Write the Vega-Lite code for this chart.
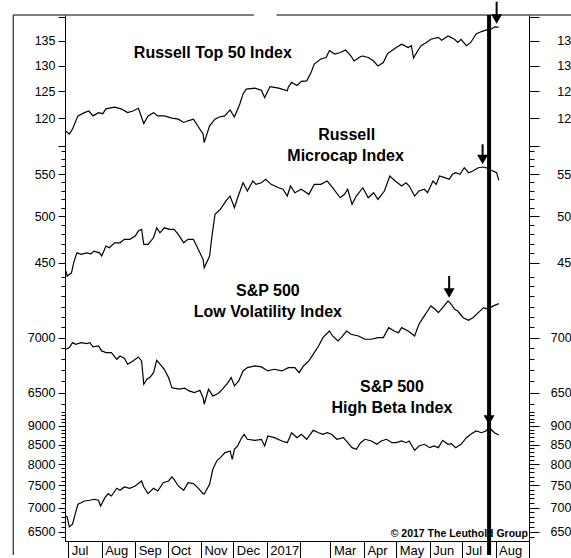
{
  "$schema": "https://vega.github.io/schema/vega-lite/v6.json",
  "padding": {"left": 12, "top": 0, "right": 0, "bottom": 0},
  "background": "white",
  "spacing": 0,
  "bounds": "flush",
  "resolve": {"scale": {"x": "independent", "y": "independent"}},
  "config": {
    "view": {"stroke": null},
    "font": "Liberation Sans",
    "axis": {"domainColor": "black", "tickColor": "black", "labelColor": "black", "labelFont": "Liberation Sans", "labelFontSize": 12.5, "grid": false, "labelOverlap": false, "labelFlush": false, "domainWidth": 1, "tickWidth": 1}
  },
  "datasets": {
    "top50": [
      {"d":"2016-06-29","v":117.6},{"d":"2016-07-02","v":117.1},{"d":"2016-07-05","v":118.0},{"d":"2016-07-10","v":120.4},{"d":"2016-07-16","v":121.0},{"d":"2016-07-20","v":121.3},{"d":"2016-07-24","v":120.4},{"d":"2016-07-29","v":121.0},{"d":"2016-08-02","v":120.8},{"d":"2016-08-05","v":121.7},{"d":"2016-08-13","v":122.0},{"d":"2016-08-19","v":121.7},{"d":"2016-08-25","v":121.0},{"d":"2016-08-30","v":121.3},{"d":"2016-09-04","v":121.8},{"d":"2016-09-09","v":119.0},{"d":"2016-09-13","v":120.4},{"d":"2016-09-18","v":121.0},{"d":"2016-09-22","v":120.4},{"d":"2016-09-28","v":120.4},{"d":"2016-10-05","v":120.0},{"d":"2016-10-11","v":119.8},{"d":"2016-10-16","v":119.2},{"d":"2016-10-20","v":119.5},{"d":"2016-10-25","v":119.8},{"d":"2016-10-29","v":118.6},{"d":"2016-11-03","v":117.1},{"d":"2016-11-04","v":115.6},{"d":"2016-11-09","v":118.6},{"d":"2016-11-14","v":119.8},{"d":"2016-11-18","v":120.2},{"d":"2016-11-23","v":120.4},{"d":"2016-11-28","v":121.5},{"d":"2016-12-02","v":120.2},{"d":"2016-12-07","v":122.6},{"d":"2016-12-10","v":124.5},{"d":"2016-12-13","v":125.4},{"d":"2016-12-21","v":125.6},{"d":"2016-12-27","v":125.2},{"d":"2016-12-30","v":123.8},{"d":"2017-01-04","v":125.9},{"d":"2017-01-12","v":125.6},{"d":"2017-01-15","v":125.4},{"d":"2017-01-20","v":125.1},{"d":"2017-01-21","v":125.8},{"d":"2017-01-24","v":126.7},{"d":"2017-01-29","v":126.1},{"d":"2017-02-02","v":126.9},{"d":"2017-02-07","v":127.0},{"d":"2017-02-11","v":128.6},{"d":"2017-02-14","v":130.3},{"d":"2017-02-20","v":131.3},{"d":"2017-02-25","v":131.6},{"d":"2017-02-28","v":133.0},{"d":"2017-03-05","v":132.3},{"d":"2017-03-10","v":132.6},{"d":"2017-03-15","v":133.1},{"d":"2017-03-20","v":131.9},{"d":"2017-03-23","v":130.9},{"d":"2017-03-29","v":131.8},{"d":"2017-03-31","v":131.9},{"d":"2017-04-05","v":131.6},{"d":"2017-04-10","v":130.9},{"d":"2017-04-14","v":129.9},{"d":"2017-04-19","v":130.6},{"d":"2017-04-23","v":132.4},{"d":"2017-04-27","v":133.0},{"d":"2017-05-01","v":133.6},{"d":"2017-05-06","v":134.3},{"d":"2017-05-12","v":133.6},{"d":"2017-05-15","v":134.0},{"d":"2017-05-17","v":131.5},{"d":"2017-05-21","v":133.0},{"d":"2017-05-24","v":134.0},{"d":"2017-05-29","v":134.65},{"d":"2017-06-02","v":135.3},{"d":"2017-06-09","v":135.7},{"d":"2017-06-12","v":135.1},{"d":"2017-06-18","v":136.0},{"d":"2017-06-24","v":135.3},{"d":"2017-06-27","v":134.65},{"d":"2017-06-30","v":135.3},{"d":"2017-07-05","v":134.0},{"d":"2017-07-09","v":134.65},{"d":"2017-07-14","v":136.4},{"d":"2017-07-19","v":136.9},{"d":"2017-07-23","v":137.2},{"d":"2017-07-28","v":137.4},{"d":"2017-07-31","v":137.9},{"d":"2017-08-04","v":137.8}
    ],
    "micro": [
      {"d":"2016-06-29","v":441.5},{"d":"2016-06-30","v":436.5},{"d":"2016-07-04","v":439.8},{"d":"2016-07-06","v":449.9},{"d":"2016-07-09","v":460.2},{"d":"2016-07-13","v":458.6},{"d":"2016-07-18","v":460.2},{"d":"2016-07-22","v":459.2},{"d":"2016-07-25","v":462.0},{"d":"2016-07-30","v":460.2},{"d":"2016-08-01","v":456.8},{"d":"2016-08-05","v":467.3},{"d":"2016-08-08","v":465.5},{"d":"2016-08-13","v":470.8},{"d":"2016-08-18","v":470.8},{"d":"2016-08-22","v":474.5},{"d":"2016-08-27","v":474.5},{"d":"2016-09-01","v":478.0},{"d":"2016-09-04","v":483.5},{"d":"2016-09-07","v":485.4},{"d":"2016-09-09","v":469.1},{"d":"2016-09-13","v":469.1},{"d":"2016-09-18","v":476.2},{"d":"2016-09-21","v":487.1},{"d":"2016-09-24","v":481.6},{"d":"2016-09-28","v":487.1},{"d":"2016-10-03","v":485.4},{"d":"2016-10-07","v":485.4},{"d":"2016-10-11","v":479.9},{"d":"2016-10-16","v":470.8},{"d":"2016-10-20","v":474.5},{"d":"2016-10-25","v":474.5},{"d":"2016-10-28","v":467.3},{"d":"2016-10-31","v":460.2},{"d":"2016-11-03","v":453.4},{"d":"2016-11-04","v":444.8},{"d":"2016-11-09","v":456.8},{"d":"2016-11-11","v":476.2},{"d":"2016-11-14","v":502.2},{"d":"2016-11-19","v":507.9},{"d":"2016-11-24","v":517.6},{"d":"2016-11-28","v":523.5},{"d":"2016-12-02","v":509.8},{"d":"2016-12-05","v":521.5},{"d":"2016-12-10","v":539.6},{"d":"2016-12-14","v":529.5},{"d":"2016-12-19","v":541.7},{"d":"2016-12-22","v":537.6},{"d":"2016-12-27","v":539.6},{"d":"2016-12-31","v":543.8},{"d":"2017-01-05","v":537.6},{"d":"2017-01-12","v":533.5},{"d":"2017-01-16","v":531.6},{"d":"2017-01-20","v":523.5},{"d":"2017-01-23","v":535.6},{"d":"2017-01-27","v":527.5},{"d":"2017-02-02","v":531.6},{"d":"2017-02-09","v":525.6},{"d":"2017-02-14","v":537.6},{"d":"2017-02-20","v":537.6},{"d":"2017-02-26","v":541.7},{"d":"2017-03-03","v":533.5},{"d":"2017-03-10","v":521.5},{"d":"2017-03-14","v":525.6},{"d":"2017-03-17","v":531.6},{"d":"2017-03-21","v":513.7},{"d":"2017-03-25","v":523.5},{"d":"2017-03-31","v":533.5},{"d":"2017-04-05","v":521.5},{"d":"2017-04-10","v":527.5},{"d":"2017-04-14","v":519.6},{"d":"2017-04-20","v":529.5},{"d":"2017-04-25","v":547.9},{"d":"2017-04-30","v":541.7},{"d":"2017-05-06","v":535.6},{"d":"2017-05-10","v":539.6},{"d":"2017-05-13","v":535.6},{"d":"2017-05-18","v":523.5},{"d":"2017-05-22","v":529.5},{"d":"2017-05-27","v":531.6},{"d":"2017-05-30","v":527.5},{"d":"2017-06-04","v":541.7},{"d":"2017-06-07","v":537.6},{"d":"2017-06-10","v":547.9},{"d":"2017-06-15","v":545.8},{"d":"2017-06-19","v":543.8},{"d":"2017-06-22","v":550.0},{"d":"2017-06-25","v":552.0},{"d":"2017-06-29","v":550.0},{"d":"2017-07-03","v":558.3},{"d":"2017-07-07","v":552.0},{"d":"2017-07-11","v":554.1},{"d":"2017-07-16","v":558.3},{"d":"2017-07-21","v":559.2},{"d":"2017-07-25","v":557.5},{"d":"2017-07-28","v":555.0},{"d":"2017-08-02","v":552.0},{"d":"2017-08-04","v":542.5}
    ],
    "lowvol": [
      {"d":"2016-06-29","v":6891},{"d":"2016-07-02","v":6907},{"d":"2016-07-05","v":6953},{"d":"2016-07-08","v":6938},{"d":"2016-07-13","v":6953},{"d":"2016-07-18","v":6944},{"d":"2016-07-21","v":6953},{"d":"2016-07-24","v":6913},{"d":"2016-07-29","v":6922},{"d":"2016-08-01","v":6876},{"d":"2016-08-05","v":6860},{"d":"2016-08-10","v":6860},{"d":"2016-08-15","v":6799},{"d":"2016-08-18","v":6829},{"d":"2016-08-22","v":6808},{"d":"2016-08-25","v":6754},{"d":"2016-08-30","v":6784},{"d":"2016-09-04","v":6820},{"d":"2016-09-07","v":6784},{"d":"2016-09-09","v":6574},{"d":"2016-09-12","v":6618},{"d":"2016-09-15","v":6638},{"d":"2016-09-18","v":6677},{"d":"2016-09-21","v":6790},{"d":"2016-09-24","v":6754},{"d":"2016-09-28","v":6708},{"d":"2016-10-02","v":6633},{"d":"2016-10-05","v":6544},{"d":"2016-10-07","v":6539},{"d":"2016-10-12","v":6530},{"d":"2016-10-17","v":6539},{"d":"2016-10-21","v":6515},{"d":"2016-10-26","v":6500},{"d":"2016-10-31","v":6521},{"d":"2016-11-03","v":6456},{"d":"2016-11-04","v":6399},{"d":"2016-11-08","v":6530},{"d":"2016-11-12","v":6471},{"d":"2016-11-17","v":6492},{"d":"2016-11-21","v":6530},{"d":"2016-11-26","v":6588},{"d":"2016-11-29","v":6633},{"d":"2016-12-02","v":6559},{"d":"2016-12-06","v":6603},{"d":"2016-12-10","v":6693},{"d":"2016-12-14","v":6723},{"d":"2016-12-21","v":6738},{"d":"2016-12-27","v":6729},{"d":"2017-01-02","v":6693},{"d":"2017-01-08","v":6708},{"d":"2017-01-15","v":6693},{"d":"2017-01-21","v":6723},{"d":"2017-01-27","v":6723},{"d":"2017-01-31","v":6677},{"d":"2017-02-04","v":6738},{"d":"2017-02-09","v":6784},{"d":"2017-02-13","v":6844},{"d":"2017-02-18","v":6922},{"d":"2017-02-22","v":7000},{"d":"2017-02-28","v":7063},{"d":"2017-03-03","v":7016},{"d":"2017-03-08","v":6969},{"d":"2017-03-11","v":7000},{"d":"2017-03-16","v":7063},{"d":"2017-03-20","v":7032},{"d":"2017-03-27","v":7016},{"d":"2017-04-02","v":6985},{"d":"2017-04-08","v":6985},{"d":"2017-04-14","v":7000},{"d":"2017-04-19","v":7000},{"d":"2017-04-24","v":7095},{"d":"2017-04-29","v":7063},{"d":"2017-05-03","v":7047},{"d":"2017-05-06","v":7095},{"d":"2017-05-12","v":7063},{"d":"2017-05-18","v":7016},{"d":"2017-05-22","v":7128},{"d":"2017-05-27","v":7208},{"d":"2017-05-30","v":7256},{"d":"2017-06-02","v":7306},{"d":"2017-06-06","v":7273},{"d":"2017-06-09","v":7240},{"d":"2017-06-13","v":7289},{"d":"2017-06-18","v":7355},{"d":"2017-06-21","v":7322},{"d":"2017-06-24","v":7273},{"d":"2017-06-27","v":7256},{"d":"2017-07-02","v":7191},{"d":"2017-07-07","v":7166},{"d":"2017-07-11","v":7191},{"d":"2017-07-16","v":7240},{"d":"2017-07-21","v":7289},{"d":"2017-07-25","v":7273},{"d":"2017-07-30","v":7306},{"d":"2017-08-04","v":7328}
    ],
    "hibeta": [
      {"d":"2016-06-29","v":6823},{"d":"2016-06-30","v":6802},{"d":"2016-07-02","v":6596},{"d":"2016-07-05","v":6651},{"d":"2016-07-07","v":6823},{"d":"2016-07-10","v":7074},{"d":"2016-07-13","v":7108},{"d":"2016-07-16","v":7145},{"d":"2016-07-21","v":7161},{"d":"2016-07-25","v":7183},{"d":"2016-07-29","v":7161},{"d":"2016-07-31","v":7036},{"d":"2016-08-04","v":7218},{"d":"2016-08-07","v":7308},{"d":"2016-08-10","v":7256},{"d":"2016-08-15","v":7430},{"d":"2016-08-18","v":7385},{"d":"2016-08-22","v":7460},{"d":"2016-08-27","v":7430},{"d":"2016-09-01","v":7483},{"d":"2016-09-07","v":7599},{"d":"2016-09-09","v":7460},{"d":"2016-09-13","v":7308},{"d":"2016-09-18","v":7430},{"d":"2016-09-22","v":7369},{"d":"2016-09-27","v":7559},{"d":"2016-10-02","v":7599},{"d":"2016-10-05","v":7693},{"d":"2016-10-07","v":7638},{"d":"2016-10-11","v":7483},{"d":"2016-10-16","v":7385},{"d":"2016-10-20","v":7559},{"d":"2016-10-25","v":7536},{"d":"2016-10-29","v":7444},{"d":"2016-11-03","v":7308},{"d":"2016-11-04","v":7300},{"d":"2016-11-09","v":7522},{"d":"2016-11-12","v":7877},{"d":"2016-11-16","v":8098},{"d":"2016-11-19","v":8164},{"d":"2016-11-23","v":8287},{"d":"2016-11-28","v":8334},{"d":"2016-11-30","v":8123},{"d":"2016-12-02","v":8377},{"d":"2016-12-05","v":8463},{"d":"2016-12-08","v":8639},{"d":"2016-12-11","v":8773},{"d":"2016-12-14","v":8639},{"d":"2016-12-21","v":8612},{"d":"2016-12-27","v":8639},{"d":"2016-12-30","v":8463},{"d":"2017-01-02","v":8727},{"d":"2017-01-08","v":8682},{"d":"2017-01-15","v":8594},{"d":"2017-01-20","v":8549},{"d":"2017-01-24","v":8816},{"d":"2017-01-29","v":8682},{"d":"2017-02-02","v":8773},{"d":"2017-02-07","v":8639},{"d":"2017-02-13","v":8882},{"d":"2017-02-18","v":8816},{"d":"2017-02-22","v":8773},{"d":"2017-02-26","v":8816},{"d":"2017-03-02","v":8773},{"d":"2017-03-07","v":8639},{"d":"2017-03-13","v":8682},{"d":"2017-03-17","v":8549},{"d":"2017-03-21","v":8419},{"d":"2017-03-25","v":8377},{"d":"2017-03-29","v":8549},{"d":"2017-04-02","v":8639},{"d":"2017-04-08","v":8594},{"d":"2017-04-13","v":8507},{"d":"2017-04-17","v":8594},{"d":"2017-04-22","v":8639},{"d":"2017-04-27","v":8549},{"d":"2017-05-01","v":8549},{"d":"2017-05-06","v":8594},{"d":"2017-05-10","v":8549},{"d":"2017-05-13","v":8594},{"d":"2017-05-18","v":8351},{"d":"2017-05-22","v":8463},{"d":"2017-05-27","v":8507},{"d":"2017-06-01","v":8419},{"d":"2017-06-05","v":8463},{"d":"2017-06-09","v":8419},{"d":"2017-06-13","v":8612},{"d":"2017-06-18","v":8507},{"d":"2017-06-21","v":8523},{"d":"2017-06-25","v":8419},{"d":"2017-06-30","v":8507},{"d":"2017-07-05","v":8682},{"d":"2017-07-09","v":8773},{"d":"2017-07-14","v":8863},{"d":"2017-07-19","v":8816},{"d":"2017-07-23","v":8863},{"d":"2017-07-26","v":8953},{"d":"2017-07-31","v":8816},{"d":"2017-08-04","v":8754}
    ]
  },
  "vconcat": [
    {
      "width": 464, "height": 131,
      "resolve": {"axis": {"y": "independent"}},
      "layer": [
        {"data": {"values": [{"d":"2016-05-11","d2":"2016-12-20","v":140.4},{"d":"2017-01-10","d2":"2017-10-10","v":140.4}]},
         "mark": {"type": "rule", "color": "black", "strokeWidth": 1, "clip": false},
         "encoding": {"x": {"field":"d","type":"temporal","scale":{"type":"utc","domain":[1467072000000,1504224000000]},"axis":null}, "x2": {"field": "d2"},
                      "y": {"field":"v","type":"quantitative","scale":{"type":"log","domain":[115.0,140.4],"nice":false},"axis":null}}},
        {"data": {"values": [{"d":"2016-05-11"}]},
         "mark": {"type": "rule", "color": "black", "strokeWidth": 1, "clip": false},
         "encoding": {"x": {"field":"d","type":"temporal","scale":{"type":"utc","domain":[1467072000000,1504224000000]},"axis":null}}},
        {"data": {"name": "top50"},
         "mark": {"type": "line", "color": "black", "strokeWidth": 1.2, "clip": false},
         "encoding": {"x": {"field":"d","type":"temporal","scale":{"type":"utc","domain":[1467072000000,1504224000000]},"axis":null},
                      "y": {"field":"v","type":"quantitative","scale":{"type":"log","domain":[115.0,140.4],"nice":false},
                            "axis": {"orient":"left","values":[115,120,125,130,135,140],"format":"d","labelExpr":"datum.value >= 120 && datum.value <= 135 ? datum.label : ''","tickSize":7,"labelPadding":3,"title":null}}}},
        {"data": {"values": [{"d":"2017-07-26"}]},
         "mark": {"type": "rule", "color": "black", "strokeWidth": 4, "clip": false},
         "encoding": {"x": {"field":"d","type":"temporal","scale":{"type":"utc","domain":[1467072000000,1504224000000]},"axis":null}}},
        {"data": {"values": [{"d":"2017-08-02","top":143.27,"head":139.56}]},
         "mark": {"type": "rule", "color": "black", "strokeWidth": 2, "clip": false},
         "encoding": {"x": {"field":"d","type":"temporal","scale":{"type":"utc","domain":[1467072000000,1504224000000]},"axis":null},
                      "y": {"field":"top","type":"quantitative","scale":{"type":"log","domain":[115.0,140.4],"nice":false},
                            "axis": {"orient":"right","values":[115,120,125,130,135,140],"format":"d","labelExpr":"datum.value >= 120 && datum.value <= 135 ? slice(datum.label, 0, 2) : ''","tickSize":10,"labelPadding":17.7,"title":null}},
                      "y2": {"field":"head"}}},
        {"data": {"values": [{"d":"2017-08-02","head":139.56}]},
         "mark": {"type": "point", "shape": "triangle-down", "filled": true, "color": "black", "opacity": 1, "size": 121, "clip": false},
         "encoding": {"x": {"field":"d","type":"temporal","scale":{"type":"utc","domain":[1467072000000,1504224000000]},"axis":null},
                      "y": {"field":"head","type":"quantitative","scale":{"type":"log","domain":[115.0,140.4],"nice":false},"axis":null}}},
        {"data": {"values": [{"d":"2016-11-12","v":132.55,"t":"Russell Top 50 Index"}]},
         "mark": {"type": "text", "font": "Liberation Sans", "fontWeight": "bold", "fontSize": 16, "align": "center", "baseline": "middle", "color": "black"},
         "encoding": {"x": {"field":"d","type":"temporal","scale":{"type":"utc","domain":[1467072000000,1504224000000]},"axis":null},
                      "y": {"field":"v","type":"quantitative","scale":{"type":"log","domain":[115.0,140.4],"nice":false},"axis":null},
                      "text": {"field":"t"}}}
      ]
    },
    {
      "width": 464, "height": 125,
      "resolve": {"axis": {"y": "independent"}},
      "layer": [
        {"data": {"values": [{"d":"2016-05-11"}]},
         "mark": {"type": "rule", "color": "black", "strokeWidth": 1, "clip": false},
         "encoding": {"x": {"field":"d","type":"temporal","scale":{"type":"utc","domain":[1467072000000,1504224000000]},"axis":null}}},
        {"data": {"name": "micro"},
         "mark": {"type": "line", "color": "black", "strokeWidth": 1.2, "clip": false},
         "encoding": {"x": {"field":"d","type":"temporal","scale":{"type":"utc","domain":[1467072000000,1504224000000]},"axis":null},
                      "y": {"field":"v","type":"quantitative","scale":{"type":"log","domain":[441.6,586.5],"nice":false},
                            "axis": {"orient":"left","values":[450,500,550],"format":"d","tickSize":7,"labelPadding":3,"title":null}}}},
        {"data": {"values": [{"d":"2017-07-26"}]},
         "mark": {"type": "rule", "color": "black", "strokeWidth": 4, "clip": false},
         "encoding": {"x": {"field":"d","type":"temporal","scale":{"type":"utc","domain":[1467072000000,1504224000000]},"axis":null}}},
        {"data": {"values": [{"d":"2017-07-20","top":588.8,"head":568.8}]},
         "mark": {"type": "rule", "color": "black", "strokeWidth": 2, "clip": false},
         "encoding": {"x": {"field":"d","type":"temporal","scale":{"type":"utc","domain":[1467072000000,1504224000000]},"axis":null},
                      "y": {"field":"top","type":"quantitative","scale":{"type":"log","domain":[441.6,586.5],"nice":false},
                            "axis": {"orient":"right","values":[450,500,550],"format":"d","labelExpr":"slice(datum.label, 0, 2)","tickSize":10,"labelPadding":17.7,"title":null}},
                      "y2": {"field":"head"}}},
        {"data": {"values": [{"d":"2017-07-20","head":568.8}]},
         "mark": {"type": "point", "shape": "triangle-down", "filled": true, "color": "black", "opacity": 1, "size": 121, "clip": false},
         "encoding": {"x": {"field":"d","type":"temporal","scale":{"type":"utc","domain":[1467072000000,1504224000000]},"axis":null},
                      "y": {"field":"head","type":"quantitative","scale":{"type":"log","domain":[441.6,586.5],"nice":false},
                            "axis": {"orient":"left","values":[440,460,470,480,490,510,520,530,540,560,570,580],"tickSize":4,"labels":false,"domain":false,"title":null}}}},
        {"data": {"values": [{"d":"2017-03-16","v":600.7,"t":"Russell"},{"d":"2017-03-15","v":572.7,"t":"Microcap Index"}]},
         "mark": {"type": "text", "font": "Liberation Sans", "fontWeight": "bold", "fontSize": 16, "align": "center", "baseline": "middle", "color": "black"},
         "encoding": {"x": {"field":"d","type":"temporal","scale":{"type":"utc","domain":[1467072000000,1504224000000]},"axis":null},
                      "y": {"field":"v","type":"quantitative","scale":{"type":"log","domain":[441.6,586.5],"nice":false},
                            "axis": {"orient":"right","values":[440,460,470,480,490,510,520,530,540,560,570,580],"tickSize":5,"labels":false,"domain":false,"title":null}},
                      "text": {"field":"t"}}}
      ]
    },
    {
      "width": 464, "height": 140,
      "resolve": {"axis": {"y": "independent"}},
      "layer": [
        {"data": {"values": [{"d":"2016-05-11"}]},
         "mark": {"type": "rule", "color": "black", "strokeWidth": 1, "clip": false},
         "encoding": {"x": {"field":"d","type":"temporal","scale":{"type":"utc","domain":[1467072000000,1504224000000]},"axis":null}}},
        {"data": {"name": "lowvol"},
         "mark": {"type": "line", "color": "black", "strokeWidth": 1.2, "clip": false},
         "encoding": {"x": {"field":"d","type":"temporal","scale":{"type":"utc","domain":[1467072000000,1504224000000]},"axis":null},
                      "y": {"field":"v","type":"quantitative","scale":{"type":"log","domain":[6341,7658],"nice":false},
                            "axis": {"orient":"left","values":[6500,7000],"format":"d","tickSize":7,"labelPadding":3,"title":null}}}},
        {"data": {"values": [{"d":"2017-07-26"}]},
         "mark": {"type": "rule", "color": "black", "strokeWidth": 4, "clip": false},
         "encoding": {"x": {"field":"d","type":"temporal","scale":{"type":"utc","domain":[1467072000000,1504224000000]},"axis":null}}},
        {"data": {"values": [{"d":"2017-06-19","top":7607,"head":7435}]},
         "mark": {"type": "rule", "color": "black", "strokeWidth": 2, "clip": false},
         "encoding": {"x": {"field":"d","type":"temporal","scale":{"type":"utc","domain":[1467072000000,1504224000000]},"axis":null},
                      "y": {"field":"top","type":"quantitative","scale":{"type":"log","domain":[6341,7658],"nice":false},
                            "axis": {"orient":"right","values":[6500,7000],"format":"d","labelExpr":"slice(datum.label, 0, 3)","tickSize":10,"labelPadding":11.3,"title":null}},
                      "y2": {"field":"head"}}},
        {"data": {"values": [{"d":"2017-06-19","head":7435}]},
         "mark": {"type": "point", "shape": "triangle-down", "filled": true, "color": "black", "opacity": 1, "size": 121, "clip": false},
         "encoding": {"x": {"field":"d","type":"temporal","scale":{"type":"utc","domain":[1467072000000,1504224000000]},"axis":null},
                      "y": {"field":"head","type":"quantitative","scale":{"type":"log","domain":[6341,7658],"nice":false},
                            "axis": {"orient":"left","values":[6300,6400,6600,6700,6800,6900,7100,7200,7300,7400,7500,7600],"tickSize":4,"labels":false,"domain":false,"title":null}}}},
        {"data": {"values": [{"d":"2017-01-02","v":7455,"t":"S&P 500"},{"d":"2017-01-02","v":7242,"t":"Low Volatility Index"}]},
         "mark": {"type": "text", "font": "Liberation Sans", "fontWeight": "bold", "fontSize": 16, "align": "center", "baseline": "middle", "color": "black"},
         "encoding": {"x": {"field":"d","type":"temporal","scale":{"type":"utc","domain":[1467072000000,1504224000000]},"axis":null},
                      "y": {"field":"v","type":"quantitative","scale":{"type":"log","domain":[6341,7658],"nice":false},
                            "axis": {"orient":"right","values":[6300,6400,6600,6700,6800,6900,7100,7200,7300,7400,7500,7600],"tickSize":5,"labels":false,"domain":false,"title":null}},
                      "text": {"field":"t"}}}
      ]
    },
    {
      "width": 464, "height": 130,
      "resolve": {"axis": {"x": "independent", "y": "independent"}},
      "layer": [
        {"data": {"name": "hibeta"},
         "mark": {"type": "line", "color": "black", "strokeWidth": 1.2, "clip": false},
         "encoding": {"x": {"field":"d","type":"temporal","scale":{"type":"utc","domain":[1467072000000,1504224000000]},
                            "axis": {"orient":"bottom","domain":true,"ticks":true,"labels":true,
                                     "values":[1467331200000,1470009600000,1472688000000,1475280000000,1477958400000,1480550400000,1483228800000,1485907200000,1488326400000,1491004800000,1493596800000,1496275200000,1498867200000,1501545600000,1504224000000],
                                     "labelExpr":"utcmonth(datum.value) == 0 ? '2017' : ((utcmonth(datum.value) == 1 || (utcmonth(datum.value) == 8 && utcyear(datum.value) == 2017)) ? '' : utcFormat(datum.value, '%b'))",
                                     "tickSize":17,"labelAlign":"left","labelBaseline":"alphabetic","labelPadding":-3.5,"labelOffset":3,"labelFontSize":13,"labelBound":false,"title":null}},
                      "y": {"field":"v","type":"quantitative","scale":{"type":"log","domain":[6317,9425],"nice":false},
                            "axis": {"orient":"left","values":[6500,7000,7500,8000,8500,9000],"format":"d","tickSize":7,"labelPadding":3,"title":null}}}},
        {"data": {"values": [{"d":"2016-05-11","y1":9425,"y2":6050}]},
         "mark": {"type": "rule", "color": "black", "strokeWidth": 1, "clip": false},
         "encoding": {"x": {"field":"d","type":"temporal","scale":{"type":"utc","domain":[1467072000000,1504224000000]},"axis":null},
                      "y": {"field":"y1","type":"quantitative","scale":{"type":"log","domain":[6317,9425],"nice":false},"axis":null},
                      "y2": {"field":"y2"}}},
        {"data": {"values": [{"d":"2017-07-26","y1":9425,"y2":6050}]},
         "mark": {"type": "rule", "color": "black", "strokeWidth": 4, "clip": false},
         "encoding": {"x": {"field":"d","type":"temporal","scale":{"type":"utc","domain":[1467072000000,1504224000000]},"axis":null},
                      "y": {"field":"y1","type":"quantitative","scale":{"type":"log","domain":[6317,9425],"nice":false},"axis":null},
                      "y2": {"field":"y2"}}},
        {"data": {"values": [{"d":"2017-07-26","top":9571,"head":9168}]},
         "mark": {"type": "rule", "color": "black", "strokeWidth": 2, "clip": false},
         "encoding": {"x": {"field":"d","type":"temporal","scale":{"type":"utc","domain":[1467072000000,1504224000000]},"axis":null},
                      "y": {"field":"top","type":"quantitative","scale":{"type":"log","domain":[6317,9425],"nice":false},
                            "axis": {"orient":"right","values":[6500,7000,7500,8000,8500,9000],"format":"d","labelExpr":"slice(datum.label, 0, 3)","tickSize":10,"labelPadding":11,"title":null}},
                      "y2": {"field":"head"}}},
        {"data": {"values": [{"d":"2017-07-26","head":9168}]},
         "mark": {"type": "point", "shape": "triangle-down", "filled": true, "color": "black", "opacity": 1, "size": 121, "clip": false},
         "encoding": {"x": {"field":"d","type":"temporal","scale":{"type":"utc","domain":[1467072000000,1504224000000]},"axis":null},
                      "y": {"field":"head","type":"quantitative","scale":{"type":"log","domain":[6317,9425],"nice":false},
                            "axis": {"orient":"left","values":[6400,6600,6700,6800,6900,7100,7200,7300,7400,7600,7700,7800,7900,8100,8200,8300,8400,8600,8700,8800,8900,9100,9200,9300,9400],"tickSize":4,"labels":false,"domain":false,"title":null}}}},
        {"data": {"values": [{"d":"2017-04-27","v":10138,"t":"S&P 500"},{"d":"2017-04-27","v":9527,"t":"High Beta Index"}]},
         "mark": {"type": "text", "font": "Liberation Sans", "fontWeight": "bold", "fontSize": 16, "align": "center", "baseline": "middle", "color": "black"},
         "encoding": {"x": {"field":"d","type":"temporal","scale":{"type":"utc","domain":[1467072000000,1504224000000]},"axis":null},
                      "y": {"field":"v","type":"quantitative","scale":{"type":"log","domain":[6317,9425],"nice":false},
                            "axis": {"orient":"right","values":[6400,6600,6700,6800,6900,7100,7200,7300,7400,7600,7700,7800,7900,8100,8200,8300,8400,8600,8700,8800,8900,9100,9200,9300,9400],"tickSize":5,"labels":false,"domain":false,"title":null}},
                      "text": {"field":"t"}}},
        {"data": {"values": [{"d":"2017-08-31","v":6455,"t":"© 2017 The Leuthold Group"}]},
         "mark": {"type": "text", "font": "Liberation Sans", "fontWeight": "bold", "fontSize": 10.5, "align": "right", "baseline": "middle", "color": "black"},
         "encoding": {"x": {"field":"d","type":"temporal","scale":{"type":"utc","domain":[1467072000000,1504224000000]},"axis":null},
                      "y": {"field":"v","type":"quantitative","scale":{"type":"log","domain":[6317,9425],"nice":false},"axis":null},
                      "text": {"field":"t"}}}
      ]
    }
  ]
}
